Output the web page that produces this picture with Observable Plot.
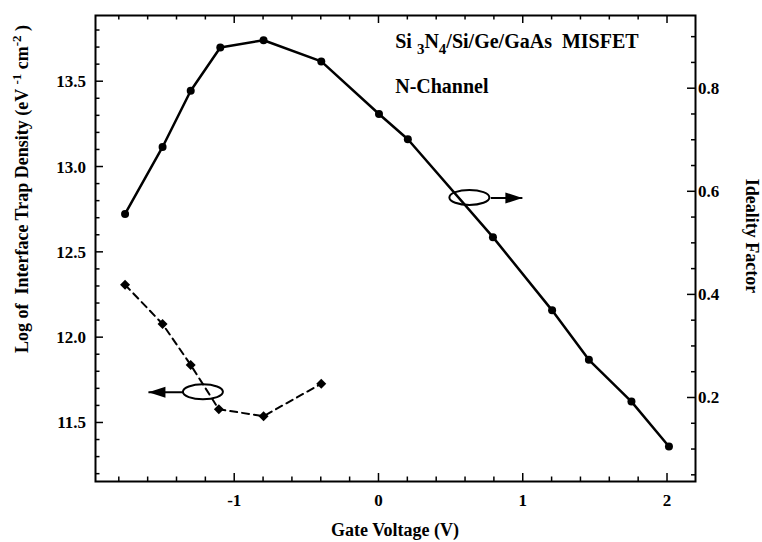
<!DOCTYPE html>
<html><head><meta charset="utf-8">
<script src="https://cdn.jsdelivr.net/npm/d3@7"></script>
<script src="https://cdn.jsdelivr.net/npm/@observablehq/plot@0.6"></script>
<style>body{margin:0;background:#fff} svg text{white-space:pre}</style>
</head><body><div id="chart"></div>
<script>
// ---- data ----
const idealVoltage = [-1.76, -1.50, -1.305, -1.10, -0.80, -0.40, 0.00, 0.20, 0.79, 1.20, 1.455, 1.75, 2.01];
const idealityFactor = [0.557, 0.687, 0.796, 0.880, 0.894, 0.853, 0.751, 0.702, 0.512, 0.370, 0.274, 0.193, 0.106];
const ditVoltage = [-1.76, -1.50, -1.305, -1.11, -0.80, -0.40];
const logDit = [12.31, 12.08, 11.84, 11.58, 11.54, 11.73];

const xMajor = [-1, 0, 1, 2];
const leftMajor = [11.5, 12.0, 12.5, 13.0, 13.5];
const rightMajor = [0.2, 0.4, 0.6, 0.8];

const xDomain = [-1.965, 2.194];
const leftDomain = [11.157, 13.888];
const rightDomain = [0.038, 0.942];

// annotation anchors (data units)
const ellipseX = [0.63, -1.217];
const ellipseYRight = [0.588, null];
const ellipseYLeft = [null, 11.68];
const arrowFrom = [0.775, -1.356];
const arrowTo = [0.994, -1.598];
const arrowAngle = [0, 180];
const deviceText = ["Si ", "3", "N", "4", "/Si/Ge/GaAs  MISFET"];
const channelText = "N-Channel";
const textX = 0.116, textY1 = 13.693, textY2 = 13.431;

// ---- helpers ----
const toL = d3.scaleLinear(rightDomain, leftDomain);
const ideal = idealVoltage.map((x, i) => ({x, y: toL(idealityFactor[i])}));
const dit = ditVoltage.map((x, i) => ({x, y: logDit[i]}));
const ellipses = ellipseX.map((x, i) => ({x, y: ellipseYRight[i] != null ? toL(ellipseYRight[i]) : ellipseYLeft[i]}));
const arrows = arrowFrom.map((x1, i) => ({x1, x2: arrowTo[i], y: ellipses[i].y, angle: arrowAngle[i]}));

const eps = 1e-9;
const xMinor = d3.range(-1.8, 2.2, 0.2).map(v => +v.toFixed(2)).filter(v => !xMajor.some(m => Math.abs(m - v) < eps));
const leftMinor = d3.range(11.2, 13.85, 0.1).map(v => +v.toFixed(2)).filter(v => !leftMajor.some(m => Math.abs(m - v) < eps));
const rightMinor = d3.range(0.05, 0.94, 0.05).map(v => +v.toFixed(2)).filter(v => !rightMajor.some(m => Math.abs(m - v) < eps));

const W = 762, H = 542, mL = 95, mR = 67, mT = 15, mB = 61;
const fw = W - mL - mR;
const arrowHead = {draw(ctx) { ctx.moveTo(0, 0); ctx.lineTo(-17, -5.5); ctx.lineTo(-17, 5.5); ctx.closePath(); }};

// ellipses of the series-to-axis annotations
const ellipseMark = (index, scales) => {
  const g = d3.create("svg:g");
  for (const e of ellipses) {
    g.append("ellipse").attr("cx", scales.x(e.x)).attr("cy", scales.y(e.y)).attr("rx", 20).attr("ry", 7.5)
      .attr("fill", "none").attr("stroke", "black").attr("stroke-width", 2);
  }
  return g.node();
};

// inward ticks and tick labels on all four sides, positioned through the scales
const axesMark = (index, scales, values, dim) => {
  const x = scales.x, y = scales.y;
  const g = d3.create("svg:g");
  const top = dim.marginTop, bottom = dim.height - dim.marginBottom;
  const left = dim.marginLeft, right = dim.width - dim.marginRight;
  const seg = (x1, y1, x2, y2) => g.append("path").attr("d", `M${x1},${y1}L${x2},${y2}`)
    .attr("stroke", "black").attr("stroke-width", 1.5).attr("fill", "none");
  for (const v of xMajor) { const p = x(v); seg(p, bottom, p, bottom - 8); seg(p, top, p, top + 8); }
  for (const v of xMinor) { const p = x(v); seg(p, bottom, p, bottom - 4.5); seg(p, top, p, top + 4.5); }
  for (const v of leftMajor) { const p = y(v); seg(left, p, left + 8, p); }
  for (const v of leftMinor) { const p = y(v); seg(left, p, left + 4.5, p); }
  for (const v of rightMajor) { const p = y(toL(v)); seg(right, p, right - 8, p); }
  for (const v of rightMinor) { const p = y(toL(v)); seg(right, p, right - 4, p); }
  const label = (tx, ty, s, anchor) => g.append("text").attr("x", tx).attr("y", ty)
    .attr("text-anchor", anchor).attr("font-family", "Liberation Serif").attr("font-weight", "bold")
    .attr("font-size", 17).attr("fill", "black").text(s);
  xMajor.forEach(v => label(x(v), bottom + 25, String(v), "middle"));
  leftMajor.forEach(v => label(left - 9, y(v) + 6, v.toFixed(1), "end"));
  rightMajor.forEach(v => label(right + 3, y(toL(v)) + 6, v.toFixed(1), "start"));
  return g.node();
};

const chart = Plot.plot({
  width: W, height: H,
  marginLeft: mL, marginRight: mR, marginTop: mT, marginBottom: mB,
  x: {domain: xDomain, axis: null},
  y: {domain: leftDomain, axis: null},
  style: {fontFamily: "Liberation Serif", fontSize: "17px", fontWeight: "bold", background: "white", color: "black"},
  marks: [
    axesMark,
    Plot.frame({stroke: "black", strokeWidth: 2}),
    Plot.line(dit, {x: "x", y: "y", stroke: "black", strokeWidth: 2, strokeDasharray: "7,5"}),
    Plot.dot(dit, {x: "x", y: "y", symbol: "diamond2", r: 4.5, fill: "black"}),
    Plot.line(ideal, {x: "x", y: "y", stroke: "black", strokeWidth: 2.5}),
    Plot.dot(ideal, {x: "x", y: "y", r: 4, fill: "black"}),
    ellipseMark,
    Plot.link(arrows, {x1: "x1", x2: "x2", y1: "y", y2: "y", stroke: "black", strokeWidth: 2}),
    Plot.dot(arrows, {x: "x2", y: "y", symbol: arrowHead, rotate: "angle", fill: "black", r: 5})
  ]
});
document.getElementById("chart").appendChild(chart);

// ---- titles and annotations ----
const root = d3.select(chart);
const sx = chart.scale("x"), sy = chart.scale("y");
const styled = sel => sel.attr("font-family", "Liberation Serif").attr("font-weight", "bold").attr("fill", "black");

const dev = styled(root.append("text")).attr("x", sx.apply(textX)).attr("y", sy.apply(textY1))
  .attr("text-anchor", "start").attr("font-size", 20);
dev.append("tspan").text(deviceText[0]);
dev.append("tspan").attr("dy", 6).attr("font-size", 15).text(deviceText[1]);
dev.append("tspan").attr("dy", -6).text(deviceText[2]);
dev.append("tspan").attr("dy", 6).attr("font-size", 15).text(deviceText[3]);
dev.append("tspan").attr("dy", -6).text(deviceText[4]);

styled(root.append("text")).attr("x", sx.apply(textX)).attr("y", sy.apply(textY2))
  .attr("text-anchor", "start").attr("font-size", 20).text(channelText);

styled(root.append("text")).attr("x", mL + fw / 2).attr("y", 536).attr("text-anchor", "middle")
  .attr("font-size", 18).text("Gate Voltage (V)");

const yl = styled(root.append("text")).attr("transform", "translate(28,189) rotate(-90)").attr("text-anchor", "middle")
  .attr("font-size", 18);
yl.append("tspan").text("Log of  Interface Trap Density (eV ");
yl.append("tspan").attr("dy", -7).attr("font-size", 13).text("-1");
yl.append("tspan").attr("dy", 7).text(" cm");
yl.append("tspan").attr("dy", -7).attr("font-size", 13).text("-2");
yl.append("tspan").attr("dy", 7).text(" )");

styled(root.append("text")).attr("transform", "translate(746,236) rotate(90)").attr("text-anchor", "middle")
  .attr("font-size", 18).text("Ideality Factor");
</script>
</body></html>
